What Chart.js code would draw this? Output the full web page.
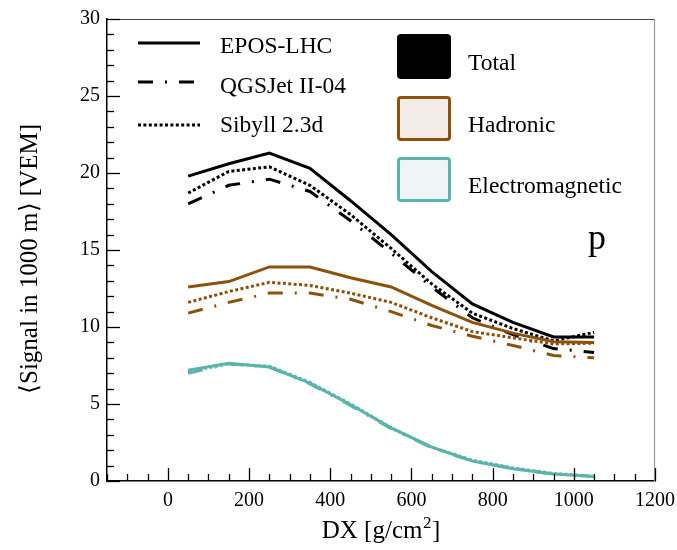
<!DOCTYPE html>
<html>
<head>
<meta charset="utf-8">
<script src="https://cdn.jsdelivr.net/npm/chart.js@4.4.1/dist/chart.umd.min.js"></script>
<style>
html,body{margin:0;padding:0;background:#fff;}
canvas{display:block;}
</style>
</head>
<body>
<canvas id="c" width="677" height="550"></canvas>
<script>
const dx = [50, 150, 250, 350, 450, 550, 650, 750, 850, 950, 1050];
const totalEPOS = [19.8, 20.6, 21.3, 20.3, 18.2, 16.0, 13.6, 11.5, 10.3, 9.35, 9.35];
const totalQGS  = [18.0, 19.2, 19.6, 18.8, 16.9, 14.8, 12.6, 10.6, 9.5, 8.6, 8.35];
const totalSIB  = [18.7, 20.1, 20.4, 19.2, 17.3, 15.1, 12.8, 10.9, 9.9, 9.1, 9.65];
const hadEPOS = [12.6, 12.95, 13.9, 13.9, 13.2, 12.6, 11.4, 10.3, 9.6, 9.05, 9.0];
const hadQGS  = [10.9, 11.6, 12.2, 12.2, 11.8, 11.0, 10.1, 9.4, 8.8, 8.15, 8.0];
const hadSIB  = [11.6, 12.3, 12.9, 12.7, 12.2, 11.6, 10.6, 9.7, 9.3, 8.9, 8.95];
const emEPOS = [7.2, 7.65, 7.4, 6.35, 4.95, 3.45, 2.2, 1.3, 0.8, 0.45, 0.3];
const emQGS  = [7.0, 7.6, 7.4, 6.3, 4.9, 3.4, 2.15, 1.3, 0.8, 0.45, 0.3];
const emSIB  = [7.1, 7.6, 7.45, 6.4, 5.0, 3.45, 2.2, 1.35, 0.85, 0.5, 0.3];

const xTickValues = [0, 200, 400, 600, 800, 1000, 1200];
const yTickValues = [0, 5, 10, 15, 20, 25, 30];
const modelNames = ['EPOS-LHC', 'QGSJet II-04', 'Sibyll 2.3d'];
const componentNames = ['Total', 'Hadronic', 'Electromagnetic'];
const xTitle = 'DX [g/cm';
const yTitle = '\u27E8Signal in 1000 m\u27E9 [VEM]';
const primaryLabel = 'p';

const BLACK = '#000000', BROWN = '#8c510a', TEAL = '#5ab4ac';
const DASH = { solid: [], dashdot: [15, 12, 2, 12], dotted: [3, 2.4] };
const SERIF = '"Liberation Serif", "Times New Roman", serif';

function pts(arr) { return dx.map((x, i) => ({ x: x, y: arr[i] })); }
function ds(label, arr, color, dash) {
  return { label, data: pts(arr), borderColor: color, borderWidth: 3, borderDash: dash,
    borderCapStyle: 'butt', borderJoinStyle: 'miter', pointRadius: 0, tension: 0, fill: false };
}

const datasets = [
  ds('EM EPOS', emEPOS, TEAL, DASH.solid),
  ds('EM QGS', emQGS, TEAL, DASH.dashdot),
  ds('EM SIB', emSIB, TEAL, DASH.dotted),
  ds('Had QGS', hadQGS, BROWN, DASH.dashdot),
  ds('Had SIB', hadSIB, BROWN, DASH.dotted),
  ds('Had EPOS', hadEPOS, BROWN, DASH.solid),
  ds('Tot QGS', totalQGS, BLACK, DASH.dashdot),
  ds('Tot SIB', totalSIB, BLACK, DASH.dotted),
  ds('Tot EPOS', totalEPOS, BLACK, DASH.solid)
];

function roundRect(ctx, x, y, w, h, r) {
  ctx.beginPath();
  ctx.moveTo(x + r, y);
  ctx.lineTo(x + w - r, y); ctx.quadraticCurveTo(x + w, y, x + w, y + r);
  ctx.lineTo(x + w, y + h - r); ctx.quadraticCurveTo(x + w, y + h, x + w - r, y + h);
  ctx.lineTo(x + r, y + h); ctx.quadraticCurveTo(x, y + h, x, y + h - r);
  ctx.lineTo(x, y + r); ctx.quadraticCurveTo(x, y, x + r, y);
  ctx.closePath();
}

const decor = {
  id: 'decor',
  afterDraw(chart) {
    const ctx = chart.ctx, a = chart.chartArea;
    const xs = chart.scales.x, ys = chart.scales.y;
    ctx.save();
    // top & right frame
    ctx.lineWidth = 1.2;
    ctx.strokeStyle = '#444';
    ctx.beginPath(); ctx.moveTo(a.left, a.top + 0.5); ctx.lineTo(a.right, a.top + 0.5); ctx.stroke();
    ctx.strokeStyle = '#999';
    ctx.beginPath(); ctx.moveTo(a.right - 0.5, a.top); ctx.lineTo(a.right - 0.5, a.bottom); ctx.stroke();
    // inward ticks
    ctx.strokeStyle = '#000'; ctx.lineWidth = 1.3;
    for (let v = -150; v <= 1200; v += 50) {
      const px = Math.round(xs.getPixelForValue(v)) + 0.5;
      const len = (v % 200 === 0) ? 13 : 7;
      ctx.beginPath(); ctx.moveTo(px, a.bottom); ctx.lineTo(px, a.bottom - len); ctx.stroke();
    }
    for (let v = 0; v <= 30; v += 1) {
      const py = Math.round(ys.getPixelForValue(v)) + 0.5;
      const len = (v % 5 === 0) ? 13 : 7;
      ctx.beginPath(); ctx.moveTo(a.left, py); ctx.lineTo(a.left + len, py); ctx.stroke();
    }
    // axis titles
    ctx.fillStyle = '#000';
    ctx.textBaseline = 'alphabetic';
    ctx.font = '25px ' + SERIF;
    const mainW = ctx.measureText(xTitle).width;
    ctx.font = '17px ' + SERIF;
    const supW = ctx.measureText('2').width;
    ctx.font = '25px ' + SERIF;
    const brW = ctx.measureText(']').width;
    const total = mainW + supW + brW + 1;
    let x0 = (a.left + a.right) / 2 - total / 2;
    const base = 538;
    ctx.textAlign = 'left';
    ctx.fillText(xTitle, x0, base);
    ctx.font = '17px ' + SERIF;
    ctx.fillText('2', x0 + mainW + 0.5, base - 10);
    ctx.font = '25px ' + SERIF;
    ctx.fillText(']', x0 + mainW + supW + 1, base);

    ctx.save();
    ctx.translate(37, 259);
    ctx.rotate(-Math.PI / 2);
    ctx.textAlign = 'center';
    ctx.font = '25px ' + SERIF;
    ctx.fillText(yTitle, 0, 0);
    ctx.restore();

    // model legend
    const ly = [43, 82, 125], lb = [53, 93, 132];
    const styles = [DASH.solid, DASH.dashdot, DASH.dotted];
    ctx.font = '23.5px ' + SERIF;
    ctx.textAlign = 'left';
    for (let i = 0; i < 3; i++) {
      ctx.setLineDash(styles[i]);
      ctx.lineCap = 'butt';
      ctx.lineWidth = 3.2; ctx.strokeStyle = '#000';
      ctx.beginPath(); ctx.moveTo(138, ly[i]); ctx.lineTo(200, ly[i]); ctx.stroke();
      ctx.setLineDash([]);
      ctx.fillText(modelNames[i], 220, lb[i]);
    }
    // component legend
    const boxes = [
      { y: 34, fill: '#000', stroke: '#000' },
      { y: 96, fill: '#f3ece6', stroke: BROWN },
      { y: 157, fill: '#eef6f5', stroke: TEAL }
    ];
    const tb = [70, 132, 193];
    for (let i = 0; i < 3; i++) {
      const b = boxes[i];
      roundRect(ctx, 398.5, b.y + 1.5, 51, 42, 2.5);
      ctx.fillStyle = b.fill; ctx.fill();
      ctx.lineWidth = 3; ctx.strokeStyle = b.stroke; ctx.stroke();
      ctx.fillStyle = '#000';
      ctx.fillText(componentNames[i], 468, tb[i]);
    }
    // primary label
    ctx.font = '36px ' + SERIF;
    ctx.textAlign = 'center';
    ctx.fillText(primaryLabel, 597, 249);
    ctx.restore();
  }
};

new Chart(document.getElementById('c'), {
  type: 'line',
  data: { datasets },
  options: {
    responsive: false,
    animation: false,
    devicePixelRatio: 1,
    layout: { padding: { top: 19, right: 22, left: 0, bottom: 0 } },
    plugins: { legend: { display: false }, tooltip: { enabled: false } },
    scales: {
      x: {
        type: 'linear', min: -150, max: 1200,
        afterBuildTicks(s) { s.ticks = xTickValues.map(v => ({ value: v })); },
        afterFit(s) { s.height = 69; s.paddingLeft = 0; s.paddingRight = 0; },
        ticks: { color: '#000', padding: 8, font: { family: SERIF, size: 20 },
          autoSkip: false, maxRotation: 0, callback: v => String(v) },
        grid: { display: true, drawOnChartArea: false, drawTicks: false },
        border: { display: true, color: '#000', width: 1.5 }
      },
      y: {
        type: 'linear', min: 0, max: 30,
        afterBuildTicks(s) { s.ticks = yTickValues.map(v => ({ value: v })); },
        afterFit(s) { s.width = 107; s.paddingTop = 0; s.paddingBottom = 0; },
        ticks: { color: '#000', padding: 7, font: { family: SERIF, size: 20 }, callback: v => String(v) },
        grid: { display: true, drawOnChartArea: false, drawTicks: false },
        border: { display: true, color: '#000', width: 1.5 }
      }
    }
  },
  plugins: [decor]
});
</script>
</body>
</html>
